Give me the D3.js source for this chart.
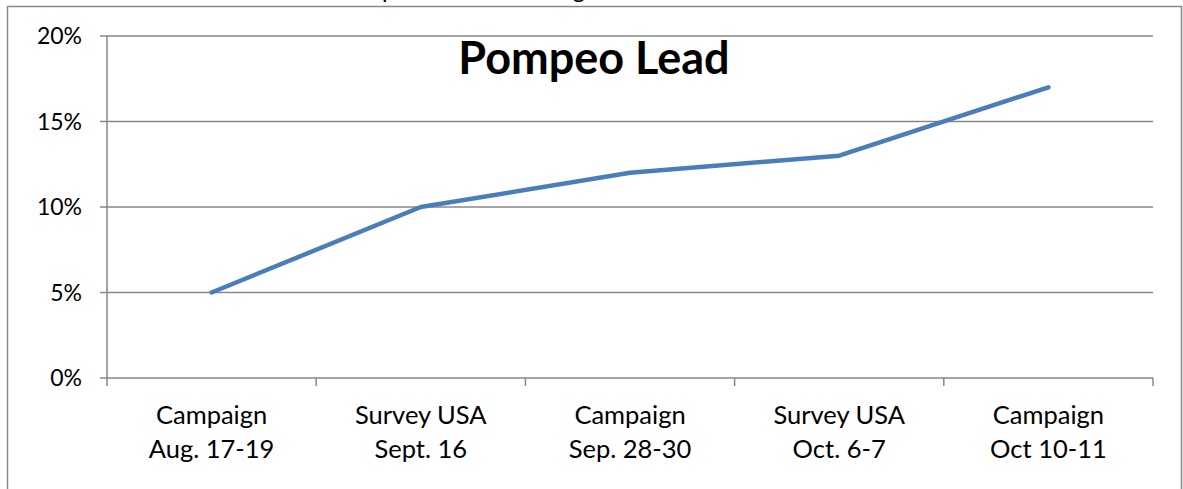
<!DOCTYPE html>
<html>
<head>
<meta charset="utf-8">
<script src="https://cdn.jsdelivr.net/npm/d3@7"></script>
<style>
  body { margin: 0; background: #fff; }
  text { font-family: Lato, "Open Sans", sans-serif; fill: #000; }
</style>
</head>
<body>
<div id="chart"></div>
<script>
// poll categories (two lines each) and Pompeo's lead
const pollsters = ["Campaign", "Survey USA", "Campaign", "Survey USA", "Campaign"];
const dates = ["Aug. 17-19", "Sept. 16", "Sep. 28-30", "Oct. 6-7", "Oct 10-11"];
const lead = [0.05, 0.10, 0.12, 0.13, 0.17];
const yTicks = [0, 0.05, 0.10, 0.15, 0.20];

const width = 1183, height = 489;
const margin = { top: 36, right: 30, bottom: 111, left: 107 };

const svg = d3.select("#chart")
  .append("svg")
  .attr("width", width)
  .attr("height", height);

// outer chart frame (the bottom is cut off in the picture)
svg.append("rect")
  .attr("x", 7.5).attr("y", 6.5)
  .attr("width", 1174).attr("height", 500)
  .attr("fill", "none")
  .attr("stroke", "#888").attr("stroke-width", 1.5);

// heading above the frame, only its descenders show
svg.append("text")
  .attr("x", 460).attr("y", -2)
  .attr("text-anchor", "middle")
  .style("font-size", "24px")
  .text("Pompeo Lead Widening");

const x = d3.scaleBand()
  .domain(d3.range(lead.length))
  .range([margin.left, width - margin.right]);

const y = d3.scaleLinear()
  .domain([0, 0.2])
  .range([height - margin.bottom, margin.top]);

// horizontal gridlines
svg.append("g")
  .selectAll("line")
  .data(yTicks)
  .join("line")
  .attr("x1", margin.left - 7)
  .attr("x2", width - margin.right)
  .attr("y1", d => y(d))
  .attr("y2", d => y(d))
  .attr("stroke", "#878787")
  .attr("stroke-width", 1.5);

// y axis line
svg.append("line")
  .attr("x1", margin.left).attr("x2", margin.left)
  .attr("y1", margin.top).attr("y2", y(0))
  .attr("stroke", "#878787").attr("stroke-width", 1.5);

// x axis category ticks
const bounds = x.domain().map(i => x(i)).concat([x.range()[1]]);
svg.append("g")
  .selectAll("line")
  .data(bounds)
  .join("line")
  .attr("x1", d => d).attr("x2", d => d)
  .attr("y1", y(0)).attr("y2", y(0) + 8)
  .attr("stroke", "#878787").attr("stroke-width", 1.5);

// y labels
svg.append("g")
  .selectAll("text")
  .data(yTicks)
  .join("text")
  .attr("x", 82)
  .attr("y", d => y(d))
  .attr("dy", "0.36em")
  .attr("text-anchor", "end")
  .style("font-size", "23px")
  .text(d3.format(".0%"));

// x labels
const xl = svg.append("g")
  .selectAll("text")
  .data(pollsters)
  .join("text")
  .attr("text-anchor", "middle")
  .style("font-size", "25.5px")
  .attr("transform", (d, i) => `translate(${x(i) + x.bandwidth() / 2},0)`);
xl.append("tspan").attr("x", 0).attr("y", 424).text(d => d);
xl.append("tspan").attr("x", 0).attr("y", 458).text((d, i) => dates[i]);

// the line
svg.append("path")
  .datum(lead)
  .attr("fill", "none")
  .attr("stroke", "#4a7ebb")
  .attr("stroke-width", 4.5)
  .attr("stroke-linecap", "round")
  .attr("stroke-linejoin", "round")
  .attr("d", d3.line()
    .x((d, i) => x(i) + x.bandwidth() / 2)
    .y(d => y(d)));

// title
svg.append("text")
  .attr("x", 594).attr("y", 74)
  .attr("text-anchor", "middle")
  .style("font-size", "45px")
  .style("font-weight", "bold")
  .text("Pompeo Lead");
</script>
</body>
</html>
